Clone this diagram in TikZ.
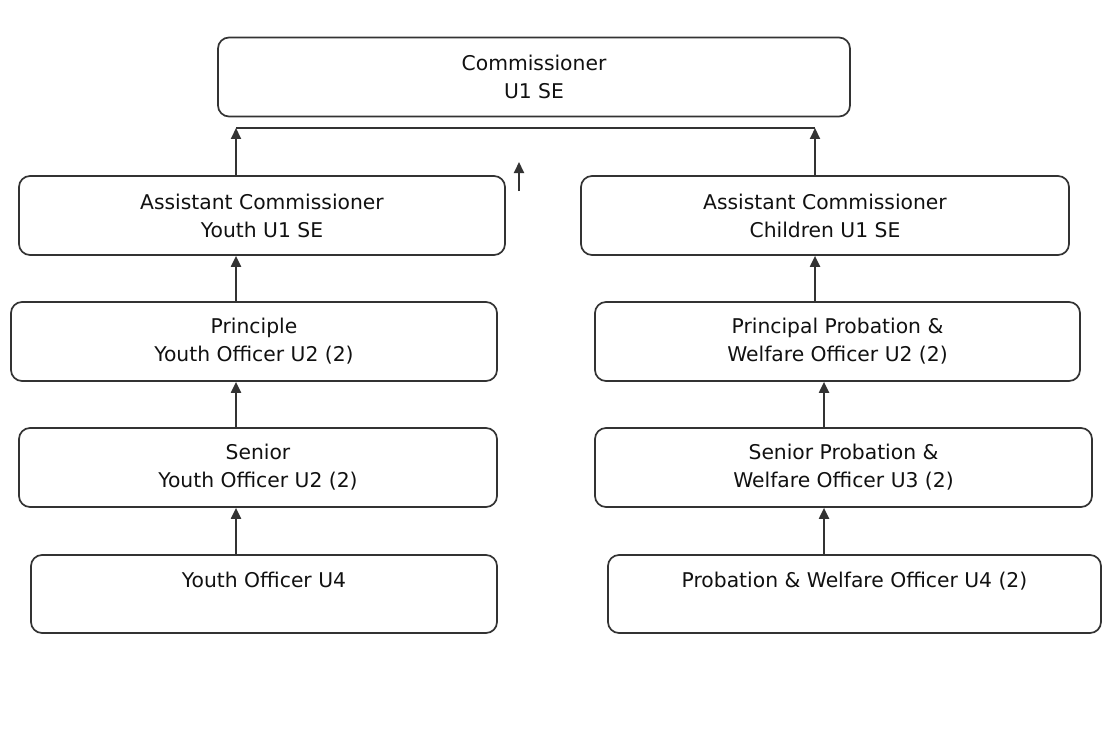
\documentclass[tikz,border=0pt]{standalone}
\usepackage{fontspec}
\setmainfont{DejaVu Sans}
\usetikzlibrary{arrows.meta}
\definecolor{edge}{HTML}{333333}
\definecolor{ink}{HTML}{111111}
\tikzset{
  orgbox/.style={draw=edge, line width=1.7pt, rounded corners=11pt, fill=white,
    align=center, text=ink, inner sep=0pt,
    font=\fontsize{20.3}{28}\selectfont, minimum height=79pt},
  arr/.style={draw=edge, line width=2pt, -{Triangle[width=10pt,length=11pt]}},
  plain/.style={draw=edge, line width=2pt}
}
\begin{document}
\begin{tikzpicture}[x=1pt,y=-1pt]
\useasboundingbox (0,0) rectangle (1103,733);
\node[orgbox, minimum width=632pt] (com) at (534,77) {Commissioner\\U1 SE};
\node[orgbox, minimum width=486pt] (acy) at (262,215.5) {Assistant Commissioner\\Youth U1 SE};
\node[orgbox, minimum width=488pt] (acc) at (825,215.5) {Assistant Commissioner\\Children U1 SE};
\node[orgbox, minimum width=486pt] (pyo) at (254,341.5) {Principle\\Youth Officer U2 (2)};
\node[orgbox, minimum width=485pt] (ppw) at (837.5,341.5) {Principal Probation \&\\Welfare Officer U2 (2)};
\node[orgbox, minimum width=478pt] (syo) at (258,467.5) {Senior\\Youth Officer U2 (2)};
\node[orgbox, minimum width=497pt] (spw) at (843.5,467.5) {Senior Probation \&\\Welfare Officer U3 (2)};
\node[orgbox, minimum width=466pt, minimum height=78pt] (yo) at (264,594) {Youth Officer U4\\\mbox{}};
\node[orgbox, minimum width=493pt, minimum height=78pt] (pw) at (854.5,594) {Probation \& Welfare Officer U4 (2)\\\mbox{}};
\coordinate (jl) at (236,128);
\coordinate (jr) at (815,128);
\coordinate (jr2) at (824,128);
\coordinate (fa) at (519,191);
\coordinate (fb) at (519,162);
\draw[plain] (jl) -- (jr);
\draw[arr] (acy.north -| jl) -- (jl);
\draw[arr] (acc.north -| jr) -- (jr);
\draw[arr] (fa) -- (fb);
\draw[arr] (pyo.north -| jl) -- (acy.south -| jl);
\draw[arr] (syo.north -| jl) -- (pyo.south -| jl);
\draw[arr] (yo.north -| jl) -- (syo.south -| jl);
\draw[arr] (ppw.north -| jr) -- (acc.south -| jr);
\draw[arr] (spw.north -| jr2) -- (ppw.south -| jr2);
\draw[arr] (pw.north -| jr2) -- (spw.south -| jr2);
\end{tikzpicture}
\end{document}
